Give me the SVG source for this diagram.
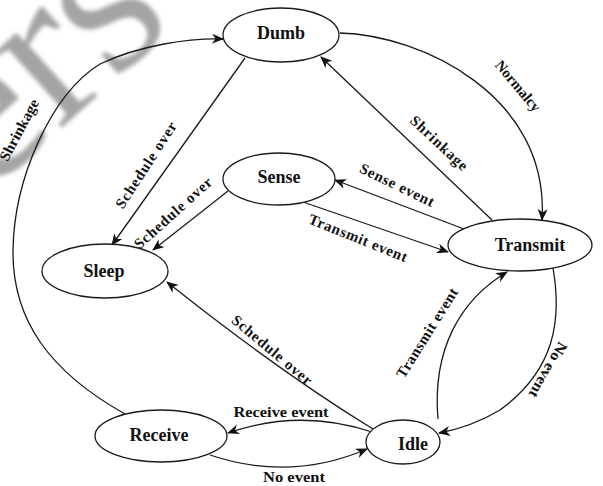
<svg xmlns="http://www.w3.org/2000/svg" width="603" height="486" viewBox="0 0 603 486">
<defs>
<style>
.node ellipse{fill:#fff;stroke:#1a1a1a;stroke-width:1.3}
.nl{font-family:"Liberation Serif","DejaVu Serif",serif;font-weight:bold;font-size:18px;text-anchor:middle;dominant-baseline:central;fill:#111}
.edge{fill:none;stroke:#1a1a1a;stroke-width:1.3}
.el{font-family:"Liberation Serif","DejaVu Serif",serif;font-weight:bold;font-size:15px;text-anchor:middle;dominant-baseline:central;fill:#111}
.wm{font-family:"Liberation Serif","DejaVu Serif",serif;font-size:220px;fill:#a4a4a4}
</style>
<marker id="arr" viewBox="0 0 12 10" markerWidth="12" markerHeight="10" refX="11" refY="5" orient="auto" markerUnits="userSpaceOnUse">
<path d="M0,0 L12,5 L0,10 L3.5,5 z" fill="#111"/>
</marker>
<filter id="blur"><feGaussianBlur stdDeviation="2"/></filter>
</defs>
<rect width="603" height="486" fill="#fff"/>
<g id="watermark" filter="url(#blur)">
<text class="wm" transform="translate(-14,196) rotate(-42)">ers</text>
</g>
<g id="connectors">
<path class="edge" marker-end="url(#arr)" d="M125,414 C 50,372 12,320 13,250 C 14,180 50,95 100,64 C 140,45 190,38 223,39"/>
<path class="edge" marker-end="url(#arr)" d="M245,58 L112,245"/>
<path class="edge" marker-end="url(#arr)" d="M228,191 L153,250"/>
<path class="edge" marker-end="url(#arr)" d="M340,33 C 420,35 550,95 542,220"/>
<path class="edge" marker-end="url(#arr)" d="M492,220 L321,57"/>
<path class="edge" marker-end="url(#arr)" d="M464,229 L335,180"/>
<path class="edge" marker-end="url(#arr)" d="M303,202 L448,252"/>
<path class="edge" marker-end="url(#arr)" d="M373,429 Q 280,372 167,282"/>
<path class="edge" marker-end="url(#arr)" d="M372,432 Q 300,408 228,433"/>
<path class="edge" marker-end="url(#arr)" d="M210,455 Q 290,482 367,449"/>
<path class="edge" marker-end="url(#arr)" d="M438,419 C 432,350 460,300 507,272"/>
<path class="edge" marker-end="url(#arr)" d="M553,268 C 562,320 555,370 500,410 C 475,425 455,430 439,433"/>
<text class="el" transform="translate(19,130) rotate(-62)" textLength="68" lengthAdjust="spacingAndGlyphs">Shrinkage</text>
<text class="el" transform="translate(146,165) rotate(-57)" textLength="100" lengthAdjust="spacing">Schedule over</text>
<text class="el" transform="translate(173,213) rotate(-42)" textLength="99" lengthAdjust="spacing">Schedule over</text>
<text class="el" transform="translate(518,86) rotate(50)" textLength="62" lengthAdjust="spacingAndGlyphs">Normalcy</text>
<text class="el" transform="translate(439,143) rotate(43)" textLength="73" lengthAdjust="spacing">Shrinkage</text>
<text class="el" transform="translate(397,185) rotate(26)" textLength="81" lengthAdjust="spacing">Sense event</text>
<text class="el" transform="translate(358,238) rotate(22)" textLength="105" lengthAdjust="spacing">Transmit event</text>
<text class="el" transform="translate(272,350) rotate(40)" textLength="100" lengthAdjust="spacing">Schedule over</text>
<text class="el" x="281" y="412" textLength="95" lengthAdjust="spacingAndGlyphs">Receive event</text>
<text class="el" x="294" y="477" textLength="62" lengthAdjust="spacingAndGlyphs">No event</text>
<text class="el" transform="translate(427,333) rotate(-58)" textLength="103" lengthAdjust="spacing">Transmit event</text>
<text class="el" transform="translate(548,370) rotate(120)" textLength="62" lengthAdjust="spacingAndGlyphs">No event</text>
</g>
<g id="dumb" class="node"><ellipse cx="281" cy="35" rx="58" ry="27"/><text class="nl" x="281" y="33">Dumb</text></g>
<g id="sense" class="node"><ellipse cx="279" cy="179" rx="56" ry="26"/><text class="nl" x="279" y="177">Sense</text></g>
<g id="transmit" class="node"><ellipse cx="520" cy="245" rx="72" ry="26"/><text class="nl" x="530" y="245">Transmit</text></g>
<g id="sleep" class="node"><ellipse cx="105" cy="271" rx="63" ry="27"/><text class="nl" x="104" y="271">Sleep</text></g>
<g id="receive" class="node"><ellipse cx="161" cy="436" rx="66" ry="26"/><text class="nl" x="159" y="435">Receive</text></g>
<g id="idle" class="node"><ellipse cx="403" cy="442" rx="37" ry="22"/><text class="nl" x="413" y="444">Idle</text></g>
</svg>
